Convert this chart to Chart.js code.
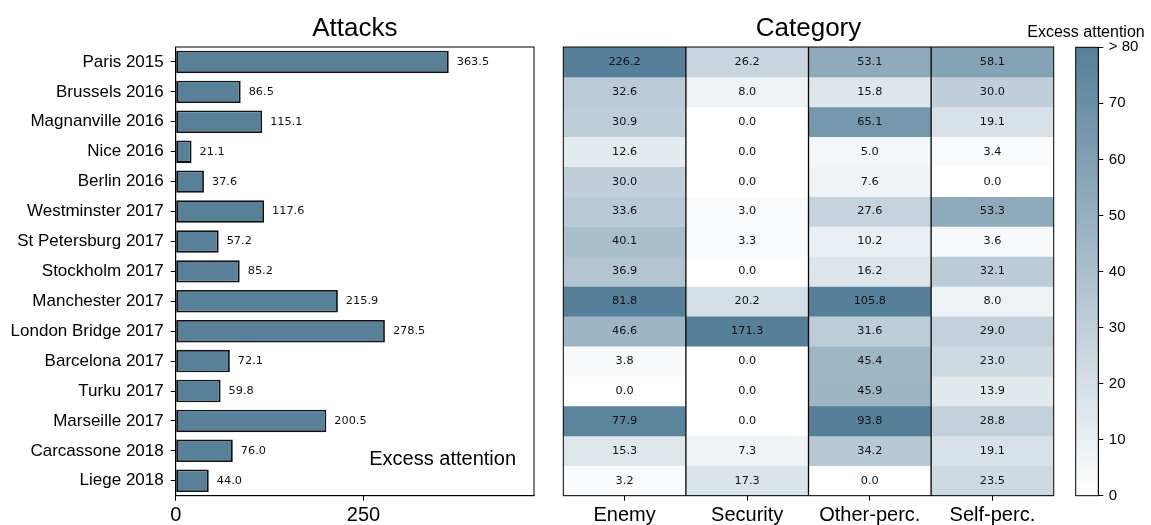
<!DOCTYPE html>
<html>
<head>
<meta charset="utf-8">
<title>Excess attention by attack and category</title>
<script src="https://cdn.jsdelivr.net/npm/chart.js@4.4.1/dist/chart.umd.min.js"></script>
<style>
  html, body { margin: 0; padding: 0; background: #fff; }
  #wrap { position: relative; width: 1151px; height: 525px; overflow: hidden; }
  #wrap canvas { position: absolute; top: 0; }
</style>
</head>
<body>
<div id="wrap">
  <canvas id="attacks" width="560" height="525" style="left:0px"></canvas>
  <canvas id="category" width="520" height="525" style="left:545px"></canvas>
  <canvas id="colorbar" width="131" height="525" style="left:1020px"></canvas>
</div>
<script>
// ---- data ----
const attacks = [
  'Paris 2015', 'Brussels 2016', 'Magnanville 2016', 'Nice 2016', 'Berlin 2016',
  'Westminster 2017', 'St Petersburg 2017', 'Stockholm 2017', 'Manchester 2017',
  'London Bridge 2017', 'Barcelona 2017', 'Turku 2017', 'Marseille 2017',
  'Carcassone 2018', 'Liege 2018'
];
const excessAttention = [363.5, 86.5, 115.1, 21.1, 37.6, 117.6, 57.2, 85.2, 215.9, 278.5, 72.1, 59.8, 200.5, 76.0, 44.0];

const categories = ['Enemy', 'Security', 'Other-perc.', 'Self-perc.'];
const enemy     = [226.2, 32.6, 30.9, 12.6, 30.0, 33.6, 40.1, 36.9, 81.8, 46.6, 3.8, 0.0, 77.9, 15.3, 3.2];
const security  = [26.2, 8.0, 0.0, 0.0, 0.0, 3.0, 3.3, 0.0, 20.2, 171.3, 0.0, 0.0, 0.0, 7.3, 17.3];
const otherPerc = [53.1, 15.8, 65.1, 5.0, 7.6, 27.6, 10.2, 16.2, 105.8, 31.6, 45.4, 45.9, 93.8, 34.2, 0.0];
const selfPerc  = [58.1, 30.0, 19.1, 3.4, 0.0, 53.3, 3.6, 32.1, 8.0, 29.0, 23.0, 13.9, 28.8, 19.1, 23.5];

const attackTicks = [0, 250];
const colorbarTicks = [0, 10, 20, 30, 40, 50, 60, 70, 80];
const colorbarLabels = ['0', '10', '20', '30', '40', '50', '60', '70', '> 80'];

// ---- styling ----
const SANS = "'Liberation Sans', Arial, Helvetica, sans-serif";
const VALUE_FONT = "'DejaVu Sans', sans-serif";
const BAR_COLOR = 'rgb(88,129,153)';
const COLOR_MAX = 80;
const LOW_RGB = [255, 255, 255];
const HIGH_RGB = [86, 128, 153];

Chart.defaults.font.family = SANS;
Chart.defaults.color = '#000';

// linear white -> steel blue colour scale, clipped at COLOR_MAX
function shade(v) {
  const t = Math.max(0, Math.min(1, v / COLOR_MAX));
  const c = LOW_RGB.map((lo, k) => Math.round(lo + (HIGH_RGB[k] - lo) * t));
  return `rgb(${c[0]},${c[1]},${c[2]})`;
}

// black box around the plotting area
const frame = {
  id: 'frame',
  afterDatasetsDraw(chart) {
    const { ctx, chartArea: a } = chart;
    ctx.save();
    ctx.strokeStyle = '#000';
    ctx.lineWidth = 1;
    ctx.strokeRect(a.left, a.top, a.right - a.left, a.bottom - a.top);
    ctx.restore();
  }
};

// value printed to the right of each bar
const barValues = {
  id: 'barValues',
  afterDatasetsDraw(chart) {
    const { ctx } = chart;
    const meta = chart.getDatasetMeta(0);
    ctx.save();
    ctx.font = `11.3px ${VALUE_FONT}`;
    ctx.fillStyle = '#111';
    ctx.textAlign = 'left';
    ctx.textBaseline = 'middle';
    meta.data.forEach((bar, i) => {
      ctx.fillText(excessAttention[i].toFixed(1), bar.x + 8, bar.y);
    });
    ctx.restore();
  }
};

// axis caption written inside the lower right corner
const cornerNote = {
  id: 'cornerNote',
  afterDraw(chart) {
    const { ctx, chartArea: a } = chart;
    ctx.save();
    ctx.font = `20px ${SANS}`;
    ctx.fillStyle = '#000';
    ctx.textAlign = 'right';
    ctx.textBaseline = 'middle';
    ctx.fillText('Excess attention', a.right - 18, a.bottom - 36);
    ctx.restore();
  }
};

// caption above the colour bar (wider than the bar itself)
const barCaption = {
  id: 'barCaption',
  afterDraw(chart) {
    const { ctx, chartArea: a } = chart;
    ctx.save();
    ctx.font = `16px ${SANS}`;
    ctx.fillStyle = '#000';
    ctx.textAlign = 'center';
    ctx.textBaseline = 'middle';
    ctx.fillText('Excess attention', (a.left + a.right) / 2 - 1, a.top - 15);
    ctx.restore();
  }
};

const axisLine = { display: true, color: '#000', width: 1 };
const tickMarks = { drawOnChartArea: false, drawTicks: true, tickLength: 5, tickColor: '#000', tickWidth: 1 };

// ---- left panel: horizontal bars ----
new Chart(document.getElementById('attacks'), {
  type: 'bar',
  data: {
    labels: attacks,
    datasets: [{
      data: excessAttention,
      backgroundColor: BAR_COLOR,
      borderColor: '#111',
      borderWidth: 1.8,
      borderSkipped: false,
      categoryPercentage: 1,
      barPercentage: 0.75
    }]
  },
  options: {
    indexAxis: 'y',
    responsive: false,
    animation: false,
    devicePixelRatio: 1,
    layout: { padding: { left: 0, right: 26, top: 0, bottom: 0 } },
    plugins: {
      legend: { display: false },
      tooltip: { enabled: false },
      title: {
        display: true, text: 'Attacks', color: '#000', fullSize: false,
        font: { size: 26, weight: 'normal' }, padding: { top: 13, bottom: 2.8 }
      }
    },
    scales: {
      x: {
        type: 'linear', min: 0, max: 477,
        afterBuildTicks: s => { s.ticks = attackTicks.map(v => ({ value: v })); },
        afterFit: s => { s.height = 29.3; },
        ticks: { font: { size: 20 }, color: '#000', padding: 3, maxRotation: 0 },
        grid: Object.assign({}, tickMarks),
        border: axisLine
      },
      y: {
        afterFit: s => { s.width = 175.7; },
        ticks: { font: { size: 17 }, color: '#000', padding: 7, autoSkip: false },
        grid: Object.assign({ offset: false }, tickMarks),
        border: axisLine
      }
    }
  },
  plugins: [frame, barValues, cornerNote]
});

// ---- middle panel: category heatmap ----
const cellTable = [enemy, security, otherPerc, selfPerc];

const rowDatasets = attacks.map((name, r) => ({
  label: name,
  data: cellTable.map(() => [r, r + 1]),
  backgroundColor: cellTable.map(col => shade(col[r])),
  borderWidth: 0,
  grouped: false,
  categoryPercentage: 1,
  barPercentage: 1
}));

const cellValues = {
  id: 'cellValues',
  afterDatasetsDraw(chart) {
    const { ctx, chartArea: a } = chart;
    const xs = chart.scales.x;
    ctx.save();
    // column separators
    ctx.strokeStyle = '#000';
    ctx.lineWidth = 1.3;
    for (let c = 1; c < categories.length; c++) {
      const x = (xs.getPixelForValue(c - 1) + xs.getPixelForValue(c)) / 2;
      ctx.beginPath();
      ctx.moveTo(x, a.top);
      ctx.lineTo(x, a.bottom);
      ctx.stroke();
    }
    // numbers in each cell
    ctx.font = `11.3px ${VALUE_FONT}`;
    ctx.fillStyle = '#111';
    ctx.textAlign = 'center';
    ctx.textBaseline = 'middle';
    chart.data.datasets.forEach((ds, r) => {
      chart.getDatasetMeta(r).data.forEach((cell, c) => {
        ctx.fillText(cellTable[c][r].toFixed(1), cell.x, (cell.y + cell.base) / 2);
      });
    });
    ctx.restore();
  }
};

new Chart(document.getElementById('category'), {
  type: 'bar',
  data: { labels: categories, datasets: rowDatasets },
  options: {
    responsive: false,
    animation: false,
    devicePixelRatio: 1,
    layout: { padding: { left: 18.3, right: 11.3, top: 0, bottom: 0 } },
    plugins: {
      legend: { display: false },
      tooltip: { enabled: false },
      title: {
        display: true, text: 'Category', color: '#000', fullSize: false,
        font: { size: 26, weight: 'normal' }, padding: { top: 13, bottom: 2.8 }
      }
    },
    scales: {
      x: {
        type: 'category',
        afterFit: s => { s.height = 29.3; },
        ticks: { font: { size: 20 }, color: '#000', padding: 3, maxRotation: 0, autoSkip: false },
        grid: Object.assign({ offset: false }, tickMarks),
        border: axisLine
      },
      y: { type: 'linear', min: 0, max: attacks.length, reverse: true, display: false }
    }
  },
  plugins: [cellValues, frame]
});

// ---- right panel: colour bar ----
new Chart(document.getElementById('colorbar'), {
  type: 'bar',
  data: {
    labels: ['Excess attention'],
    datasets: [{
      data: [[0, COLOR_MAX]],
      backgroundColor: ctx => {
        const area = ctx.chart.chartArea;
        if (!area) return shade(COLOR_MAX);
        const g = ctx.chart.ctx.createLinearGradient(0, area.bottom, 0, area.top);
        g.addColorStop(0, shade(0));
        g.addColorStop(1, shade(COLOR_MAX));
        return g;
      },
      borderWidth: 0,
      categoryPercentage: 1,
      barPercentage: 1
    }]
  },
  options: {
    responsive: false,
    animation: false,
    devicePixelRatio: 1,
    layout: { padding: { left: 55.7, right: 0, top: 47.3, bottom: 29.3 } },
    plugins: {
      legend: { display: false },
      tooltip: { enabled: false }
    },
    scales: {
      x: { display: false },
      y: {
        type: 'linear', position: 'right', min: 0, max: COLOR_MAX,
        afterBuildTicks: s => { s.ticks = colorbarTicks.map(v => ({ value: v })); },
        afterFit: s => { s.width = 52.7; },
        ticks: {
          font: { size: 15 }, color: '#000', padding: 5.5,
          callback: v => colorbarLabels[colorbarTicks.indexOf(v)]
        },
        grid: Object.assign({}, tickMarks),
        border: axisLine
      }
    }
  },
  plugins: [frame, barCaption]
});
</script>
</body>
</html>
